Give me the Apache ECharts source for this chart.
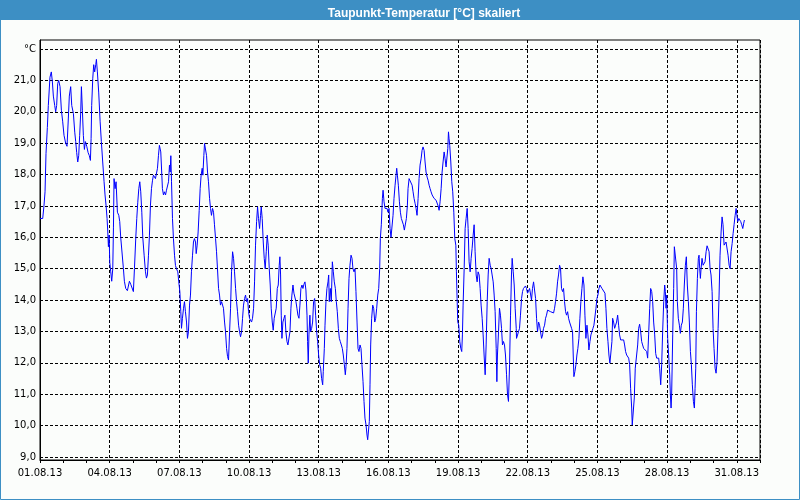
<!DOCTYPE html>
<html><head><meta charset="utf-8">
<script src="https://cdn.jsdelivr.net/npm/echarts@6/dist/echarts.min.js"></script>
<style>html,body{margin:0;padding:0;background:#fff}#c{width:800px;height:500px}</style>
</head><body><div id="c"></div>
<script>
// [hour since 01.08.13 00:00, dew point °C]
const seg1 = [[0,16.6],[2.8,16.6],[4.1,17.0],[5.2,17.45],[6.2,18.67],[7.6,19.5],[8.6,20.2],[10.3,21.1],[11.7,21.27],[12.8,20.95],[13.8,20.5],[15.2,20.2],[16.2,20.0],[17.2,20.2],[18.3,20.9],[19.3,21.0],[20.7,20.8],[22.1,20.05],[23.4,19.7],[24.8,19.25],[26.5,19.0],[27.9,18.9],[29.3,19.8],[30.3,20.5],[31.7,20.8],[32.8,20.2],[34.5,19.95],[35.9,19.35],[36.9,19.05],[37.9,18.7],[39.0,18.4],[40.0,18.6],[41.0,19.25],[42.1,20.0],[42.8,20.8],[43.8,20.05],[44.8,19.25],[45.9,18.8],[46.9,19.05],[48.3,18.9],[49.7,18.7],[51.0,18.6],[52.1,18.45],[52.8,19.15],[53.4,20.2],[54.5,21.05],[55.5,21.5],[56.5,21.27],[57.6,21.5],[58.3,21.67],[59.3,21.27],[60.7,20.6],[62.1,19.7],[63.4,19.05],[64.8,18.4],[66.2,17.77],[67.2,17.35],[68.3,17.0],[69.3,16.6],[70.0,16.2],[70.7,15.7],[71.4,16.07],[72.1,15.2],[73.1,14.9],[74.1,14.6],[75.2,15.0],[75.9,16.3],[76.5,17.87],[77.6,17.55],[78.6,17.77],[80.0,16.8],[81.4,16.7],[82.4,16.5],[83.4,16.0],[84.8,15.5],[86.2,15.0],[87.2,14.6],[88.6,14.37],[90.3,14.3],[91.7,14.27],[92.4,14.6],[93.8,14.5],[95.2,14.48],[96.5,14.27],[97.6,15.0],[99.0,16.0],[100.0,16.6],[101.0,17.1],[102.1,17.55],[103.1,17.77],[104.1,17.45],[105.2,16.8],[106.2,16.0],[107.6,15.43],[109.0,14.9],[110.0,14.7],[111.0,14.8],[112.1,15.43],[113.1,16.07],[114.1,17.0],[115.2,17.55],[116.2,17.8],[117.2,17.98],[118.3,18.03],[119.3,17.87],[120.3,17.92],[121.4,18.2],[122.4,18.6],[123.4,18.93]];
const seg2 = [[124.8,18.72],[125.9,17.98],[126.5,17.55],[127.6,17.35],[128.6,17.45],[129.7,17.35],[130.7,17.5],[131.7,17.45],[132.8,17.77],[133.8,18.3],[134.5,18.08],[135.2,18.6],[135.9,17.77],[136.9,16.6],[137.9,15.96],[139.0,15.43],[140.0,15.1],[141.0,15.0],[142.4,14.9],[143.4,14.58],[144.5,14.27],[145.5,13.63],[146.2,13.1],[147.2,13.42],[148.3,13.74],[149.3,13.95],[150.3,13.63],[151.4,13.3],[152.4,12.78],[153.4,12.99],[154.5,13.84],[155.5,14.16],[156.5,14.9],[157.6,15.43],[158.6,15.85],[159.6,15.96],[160.7,15.85],[161.4,15.48],[162.4,15.75],[163.4,16.17],[164.5,16.86],[165.5,17.55],[166.5,17.98],[167.6,18.2],[168.3,17.98],[169.3,18.6],[170.0,18.99],[171.0,18.93],[172.1,18.6],[173.1,18.08],[174.1,17.77],[175.2,17.24],[176.2,16.92],[177.2,16.7],[178.3,16.92],[179.3,16.8],[180.3,16.4],[181.4,15.96],[182.4,15.54],[183.4,15.0],[184.5,14.37],[185.5,14.16],[186.5,13.84],[187.6,13.95],[188.6,14.0],[189.6,13.74],[190.7,13.3],[191.7,12.99],[192.8,12.46],[193.8,12.2],[194.8,12.09],[195.9,12.99],[196.9,13.74],[197.9,14.9],[199.0,15.54],[200.0,15.33],[201.0,14.9],[202.1,14.37],[203.1,13.95],[204.1,13.63],[205.2,13.2],[206.2,12.99],[207.2,12.83],[208.3,12.99],[209.3,13.42],[210.3,13.84],[211.4,14.05],[212.4,14.16],[213.4,13.95],[214.5,14.05],[215.5,13.63],[216.5,13.42],[217.6,13.37],[218.6,13.3],[219.6,13.42],[220.7,13.74],[221.7,14.58],[222.7,15.75],[223.8,16.5],[224.8,16.97],[225.8,16.6],[226.9,16.28],[227.9,16.7],[228.6,16.97],[229.6,16.6],[230.7,15.85],[231.7,15.33],[232.7,15.0],[233.8,15.54],[234.8,16.07],[235.8,15.75],[236.9,15.0],[237.9,14.48],[238.9,13.74],[240.0,13.3],[241.0,13.04],[242.0,13.42],[243.1,13.47],[244.1,13.74],[245.2,14.37]];
const seg3 = [[246.2,14.48],[247.2,15.11],[247.9,15.38],[248.6,14.8],[249.3,13.52],[250.0,12.78],[251.0,13.3],[252.1,13.42],[253.1,13.52],[254.1,12.99],[255.2,12.68],[256.2,12.57],[257.2,12.52],[258.3,12.99],[259.3,13.74],[260.3,14.16],[261.4,14.48],[262.4,14.22],[263.4,14.16],[264.5,13.95],[265.5,13.74],[266.5,13.52],[267.6,13.42],[268.6,13.84],[269.6,14.37],[270.7,14.48],[271.7,14.37],[272.7,14.5],[273.8,14.58],[274.8,14.32],[275.9,13.52],[276.5,12.68],[277.2,11.99],[277.9,12.89],[278.9,13.52],[279.6,12.99],[280.7,13.1],[281.7,13.3],[282.7,13.95],[283.8,14.05],[284.8,13.52],[285.9,12.99],[286.9,12.68],[287.9,12.25],[289.0,11.94],[290.0,11.83],[291.0,11.5],[292.1,11.3],[292.7,11.72],[293.8,12.46],[294.5,13.2],[295.5,13.95],[296.5,14.37],[297.6,14.58],[298.3,14.8],[298.9,13.95],[300.0,14.37],[301.0,13.95],[302.1,15.22],[303.1,14.9],[304.1,14.58],[305.2,14.37],[306.2,13.95],[307.2,13.63],[308.3,13.1],[309.3,12.78],[310.3,12.68],[311.4,12.57],[312.4,12.46],[313.4,12.25],[314.5,11.94],[315.5,11.62],[316.2,11.88],[317.2,12.46],[318.3,13.74],[319.3,14.69],[320.3,15.11],[321.4,15.43],[322.4,15.33],[323.4,15.0],[324.5,14.9],[325.5,15.0],[326.5,14.27],[327.6,13.3],[328.6,12.46],[329.6,12.36],[330.7,12.57],[331.7,12.46],[332.7,11.94],[333.8,11.4],[334.8,10.77],[335.8,10.24],[336.9,10.02],[337.9,9.7],[338.6,9.55],[339.6,9.6],[340.3,10.13],[341.0,11.3],[341.7,12.57],[342.7,13.42],[343.8,13.84],[344.8,13.74],[345.9,13.3],[346.9,13.42],[347.9,13.74],[349.0,14.16],[350.0,14.37],[351.0,15.0],[351.7,15.96],[352.7,16.4],[353.8,17.24],[354.5,17.5],[355.5,17.13],[356.5,16.92],[357.6,16.97],[358.6,16.92],[359.6,16.8],[360.7,16.92],[361.7,16.28],[362.7,16.0],[363.8,16.0],[364.8,16.7],[365.8,17.24],[366.9,17.66],[367.9,17.98],[368.6,18.2]];
const seg4 = [[369.3,17.98],[370.3,17.66],[371.4,17.13],[372.4,16.8],[373.4,16.6],[374.5,16.55],[375.5,16.4],[376.5,16.23],[377.6,16.17],[378.6,16.6],[379.6,17.0],[380.3,17.55],[381.4,17.87],[382.4,17.9],[383.4,17.82],[384.5,17.66],[385.5,17.45],[386.5,17.24],[387.6,17.08],[388.6,16.92],[389.6,16.7],[390.7,17.24],[391.7,17.87],[392.7,18.3],[393.8,18.5],[394.8,18.77],[395.8,18.88],[396.9,18.77],[397.9,18.4],[398.9,18.08],[400.0,17.92],[401.0,17.82],[402.1,17.66],[403.1,17.55],[404.1,17.45],[405.2,17.35],[406.2,17.29],[407.2,17.24],[408.3,17.21],[409.3,17.18],[410.3,17.13],[411.4,17.0],[412.4,16.86],[413.4,17.13],[414.5,17.55],[415.5,18.08],[416.5,18.4],[417.6,18.72],[418.6,18.5],[419.6,18.24],[420.7,18.24],[421.4,18.83],[422.1,19.36],[422.7,19.14],[423.4,18.93],[424.5,18.4],[425.5,17.77],[426.5,17.45],[427.6,16.8],[428.6,15.96],[429.7,15.75],[430.3,14.9],[431.0,14.05],[431.7,13.3],[432.7,13.2],[433.8,12.68],[434.8,12.46],[435.8,12.36],[436.5,12.89],[437.2,13.84],[438.3,15.0],[439.3,16.28],[440.3,16.6],[441.4,16.92],[442.4,16.28],[443.4,15.22],[444.5,14.9],[445.5,15.33],[446.5,15.64],[447.6,16.07],[448.6,16.4],[449.6,15.54],[450.7,14.8],[451.7,14.58],[452.7,14.9],[453.8,14.8],[454.8,14.37],[455.8,13.84],[456.9,13.42],[457.9,12.89],[458.9,12.25],[460.0,11.62],[461.0,12.57],[462.1,13.95],[463.1,14.8],[464.1,15.33],[465.2,15.11],[466.2,15.0],[467.2,14.8],[468.3,14.58],[469.3,14.16],[470.3,13.63],[471.4,12.46],[472.1,11.4],[472.7,12.25],[473.8,12.99],[474.8,13.74],[475.8,13.52],[476.9,13.1],[477.9,12.57],[478.9,12.68],[480.0,12.57],[481.0,12.25],[482.1,11.62],[483.1,10.98],[484.1,10.77],[485.2,11.94],[486.2,13.52],[487.2,14.8],[487.9,15.33],[489.0,14.9],[490.0,14.48],[491.0,13.74],[492.1,13.1]];
const seg5 = [[492.4,12.78],[494.1,12.73],[495.5,13.1],[496.5,13.52],[497.6,14.05],[498.6,14.27],[499.6,14.37],[500.7,14.43],[501.7,14.45],[502.7,14.37],[503.8,14.22],[504.8,14.27],[505.9,14.37],[506.9,14.32],[507.9,14.0],[508.9,14.37],[510.0,14.58],[511.0,14.63],[512.1,14.05],[513.1,13.42],[514.1,12.99],[515.2,13.3],[516.2,13.2],[517.2,12.99],[518.3,12.78],[519.3,12.89],[520.3,13.1],[521.4,13.2],[522.4,13.42],[523.4,13.52],[524.5,13.68],[525.5,13.63],[526.5,13.65],[527.6,13.63],[528.6,13.61],[529.6,13.63],[530.7,13.59],[531.7,13.74],[532.7,13.95],[533.8,14.22],[534.8,14.58],[535.8,14.8],[536.9,15.11],[537.9,15.0],[538.9,14.37],[540.0,14.27],[541.0,14.37],[542.0,13.95],[543.1,13.63],[544.1,13.52],[545.2,13.63],[546.2,13.42],[547.2,13.3],[548.3,13.25],[549.3,13.1],[550.3,12.99],[551.0,12.25],[551.7,11.56],[552.7,11.72],[553.8,11.94],[554.8,12.25],[555.8,12.46],[556.9,12.78],[557.9,13.42],[558.9,13.95],[560.0,14.37],[561.0,14.74],[562.1,14.48],[563.1,13.52],[564.1,12.78],[565.2,13.2],[566.2,12.89],[567.2,12.41],[568.3,12.68],[569.3,12.89],[570.3,12.99],[571.4,13.1],[572.4,13.2],[573.4,13.25],[574.5,13.74],[575.5,14.05],[576.5,14.16],[577.6,14.37],[578.6,14.48],[579.6,14.43],[580.7,14.37],[581.7,14.4],[582.7,14.32],[583.8,14.22],[584.8,13.74],[585.8,13.1],[586.9,12.68],[587.9,12.25],[588.9,11.99],[590.0,11.94],[591.0,12.68],[591.7,13.42],[592.7,13.3],[593.8,13.1],[594.8,13.2],[595.8,13.3],[596.9,13.52],[597.9,13.2],[598.9,12.89],[600.0,12.73],[601.0,12.68],[602.0,12.73],[603.1,12.73],[604.1,12.57],[605.1,12.36],[606.2,12.25],[607.2,12.2],[608.3,12.15],[609.3,11.94],[610.3,11.19],[611.4,10.56],[612.0,10.02],[613.1,9.97],[614.1,10.88],[615.1,11.83],[616.2,11.78]];
const seg6 = [[616.5,11.88],[617.6,12.57],[618.6,13.1],[619.6,13.23],[620.7,12.99],[621.7,12.68],[622.7,12.57],[623.8,12.46],[624.8,12.44],[625.8,12.41],[626.9,12.36],[627.9,12.15],[628.9,12.89],[630.0,13.74],[631.0,14.37],[632.1,14.27],[633.1,13.95],[634.1,13.3],[635.2,12.89],[636.2,12.3],[637.2,12.15],[638.3,12.2],[639.3,12.15],[640.3,11.83],[641.4,11.3],[642.4,11.94],[643.4,12.99],[644.5,13.95],[645.5,14.48],[646.2,14.27],[646.9,13.74],[647.6,14.16],[648.6,12.78],[649.6,12.25],[650.7,11.62],[651.4,10.98],[652.1,10.56],[652.7,10.98],[653.8,12.89],[654.8,14.37],[655.5,15.7],[656.5,15.7],[657.2,15.7],[657.9,15.0],[658.6,13.95],[659.6,13.42],[660.7,13.2],[661.7,12.94],[662.7,13.2],[663.8,13.3],[664.8,13.74],[665.8,14.48],[666.9,15.11],[667.9,15.38],[668.9,14.48],[670.0,13.95],[671.0,13.3],[672.1,12.36],[673.1,11.94],[674.1,11.3],[675.2,10.77],[676.2,10.56],[676.9,11.19],[677.6,11.83],[678.3,13.63],[679.3,14.69],[680.3,15.33],[681.0,15.43],[681.7,15.0],[682.4,14.69],[683.1,15.0],[684.1,15.33],[685.2,15.11],[686.2,15.06],[687.2,15.22],[688.3,15.54],[689.3,15.73],[690.3,15.75],[691.4,15.54],[692.4,15.0],[693.4,14.8],[694.5,14.27],[695.5,13.1],[696.5,12.46],[697.6,11.83],[698.6,11.67],[699.6,12.04],[700.7,13.1],[701.7,14.16],[702.7,15.43],[703.8,16.17],[704.8,16.65],[705.8,16.4],[706.9,15.75],[707.9,15.8],[708.9,15.85],[710.0,15.91],[711.0,15.43],[712.1,15.11],[713.1,15.0],[714.1,15.54],[715.2,15.8],[716.2,16.12],[717.2,16.4],[718.3,16.7],[719.3,16.92],[720.0,16.97],[721.0,16.5],[722.1,16.6],[723.1,16.55],[724.1,16.5],[725.1,16.4],[726.2,16.28],[727.2,16.45],[727.9,16.55]];

const xTickLabels = ['01.08.13','04.08.13','07.08.13','10.08.13','13.08.13','16.08.13','19.08.13','22.08.13','25.08.13','28.08.13','31.08.13'];
const yTickLabels = ['9,0','10,0','11,0','12,0','13,0','14,0','15,0','16,0','17,0','18,0','19,0','20,0','21,0','°C'];
const titleText = 'Taupunkt-Temperatur [°C] skaliert';

const data = [].concat(seg1, seg2, seg3, seg4, seg5, seg6);
const blue = '#3d8fc4';
const lblFont = {fontFamily: 'DejaVu Sans', fontSize: 10, color: '#000'};

const chart = echarts.init(document.getElementById('c'), null, {renderer: 'canvas'});
chart.setOption({
  animation: false,
  backgroundColor: '#fbfdfb',
  title: {
    text: titleText, left: 419, top: 3, textAlign: 'center',
    textStyle: {color: '#fff', fontFamily: 'Liberation Sans', fontWeight: 'bold', fontSize: 12}
  },
  graphic: [
    {type: 'rect', shape: {x: 0, y: 0, width: 800, height: 20}, style: {fill: blue}, z: 0},
    {type: 'rect', shape: {x: 0.5, y: 0.5, width: 799, height: 499}, style: {fill: null, stroke: blue, lineWidth: 1}, z: 0}
  ],
  grid: [
    {left: 40, right: 40, top: 40, bottom: 40, show: true, borderColor: '#000', borderWidth: 1, backgroundColor: 'transparent'},
    {left: 40, right: 40, top: 49, bottom: 43}
  ],
  xAxis: [
    {
      gridIndex: 0, type: 'value', min: 0, max: 744, interval: 72,
      axisLine: {show: true, lineStyle: {color: '#000', width: 1}},
      axisTick: {show: true, length: 3, lineStyle: {color: '#000'}},
      minorTick: {show: true, splitNumber: 3, length: 3, lineStyle: {color: '#000'}},
      axisLabel: Object.assign({margin: 8, showMaxLabel: false, formatter: v => xTickLabels[Math.round(v / 72)] || ''}, lblFont),
      splitLine: {show: true, lineStyle: {color: '#000', width: 1, type: [3, 2]}}
    },
    {gridIndex: 1, type: 'value', min: 0, max: 744, show: false}
  ],
  yAxis: [
    {gridIndex: 0, type: 'value', min: 0, max: 1, axisLine: {show: true, lineStyle: {color: '#000'}}, axisTick: {show: false}, axisLabel: {show: false}, splitLine: {show: false}},
    {
      gridIndex: 1, type: 'value', min: 9, max: 22, interval: 1,
      axisLine: {show: false}, axisTick: {show: false},
      axisLabel: Object.assign({margin: 4, formatter: v => yTickLabels[Math.round(v - 9)] || ''}, lblFont),
      splitLine: {show: true, lineStyle: {color: '#000', width: 1, type: [3, 2]}}
    }
  ],
  series: [{
    type: 'line', xAxisIndex: 1, yAxisIndex: 1, data: data,
    showSymbol: false, symbol: 'none', smooth: false,
    lineStyle: {color: '#0000ff', width: 1}, z: 5
  }]
});
</script></body></html>
